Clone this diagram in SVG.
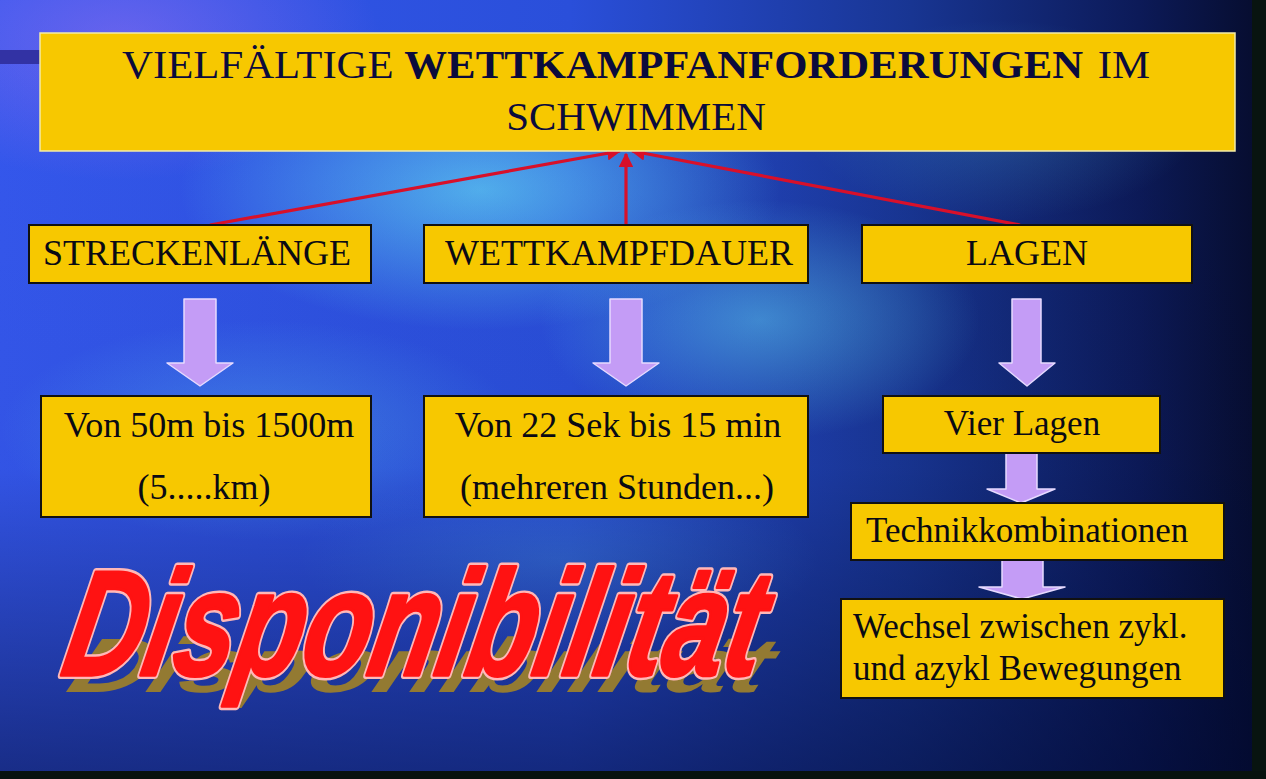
<svg xmlns="http://www.w3.org/2000/svg" width="1266" height="779" viewBox="0 0 1266 779">
<defs>
<linearGradient id="bgH" x1="0" y1="0" x2="1" y2="0">
<stop offset="0" stop-color="#3558EE"/>
<stop offset="0.45" stop-color="#2A4FDA"/>
<stop offset="0.72" stop-color="#183592"/>
<stop offset="0.9" stop-color="#0C1A58"/>
<stop offset="1" stop-color="#060C2C"/>
</linearGradient>
<linearGradient id="bgV" x1="0" y1="0" x2="0" y2="1">
<stop offset="0" stop-color="#000830" stop-opacity="0"/>
<stop offset="0.6" stop-color="#000830" stop-opacity="0.05"/>
<stop offset="1" stop-color="#000830" stop-opacity="0.55"/>
</linearGradient>
<radialGradient id="glow" cx="0.5" cy="0.5" r="0.5">
<stop offset="0" stop-color="#5FD0F5" stop-opacity="0.75"/>
<stop offset="1" stop-color="#5FD0F5" stop-opacity="0"/>
</radialGradient>
<radialGradient id="purp" cx="0.5" cy="0.5" r="0.5">
<stop offset="0" stop-color="#8A6CF0" stop-opacity="0.6"/>
<stop offset="1" stop-color="#8A6CF0" stop-opacity="0"/>
</radialGradient>
<marker id="redHead" viewBox="0 0 10 10" refX="9" refY="5" markerWidth="4.5" markerHeight="4.5" orient="auto" markerUnits="strokeWidth">
<path d="M0,0 L10,5 L0,10 z" fill="#D8102A"/>
</marker>
<style>
.box{fill:#F7C800;stroke:#111;stroke-width:2}
.tbox{fill:#F7C800;stroke:#F3EBA8;stroke-width:1.5}
.t{font-family:"Liberation Serif","Times New Roman",serif;fill:#0A0A14;font-size:36px}
.t2{font-family:"Liberation Serif","Times New Roman",serif;fill:#0A0A14;font-size:35px}
.title{font-family:"Liberation Serif","Times New Roman",serif;fill:#0B0B3C;font-size:41px}
.red{stroke:#D8102A;stroke-width:3.2;fill:none;marker-end:url(#redHead)}
.blk{fill:#C49CF6;stroke:#E6DAFF;stroke-width:1.5;stroke-linejoin:round}
.disp{font-family:"Liberation Sans",Arial,sans-serif;font-weight:bold;font-style:italic;font-size:110px}
</style>
</defs>
<g id="background">
<rect x="0" y="0" width="1266" height="779" fill="url(#bgH)"/>
<ellipse cx="120" cy="40" rx="260" ry="140" fill="url(#purp)"/>
<ellipse cx="480" cy="190" rx="300" ry="140" fill="url(#glow)"/>
<ellipse cx="760" cy="320" rx="220" ry="120" fill="url(#glow)" opacity="0.7"/>
<ellipse cx="260" cy="430" rx="260" ry="110" fill="url(#glow)" opacity="0.45"/>
<ellipse cx="1000" cy="120" rx="200" ry="100" fill="url(#glow)" opacity="0.3"/>
<ellipse cx="560" cy="560" rx="260" ry="90" fill="url(#glow)" opacity="0.3"/>
<rect x="0" y="0" width="1266" height="779" fill="url(#bgV)"/>
<rect x="0" y="50" width="40" height="14" fill="#3232A4"/>
<rect x="1252" y="0" width="14" height="779" fill="#081410"/>
<rect x="0" y="771" width="1266" height="8" fill="#07120E"/>
</g>
<g id="disponibilitaet">
<text class="disp" fill="#937A32" transform="translate(64,692) skewX(-22) scale(1,0.7)">Disponibilität</text>
<g transform="translate(59,675) skewX(-11) scale(1,1.36)">
<text class="disp" fill="#FFB8B8" stroke="#FFB8B8" stroke-width="6" stroke-linejoin="round">Disponibilität</text>
<text class="disp" fill="#FF1212" stroke="#FF1212" stroke-width="2.4" stroke-linejoin="round">Disponibilität</text>
</g>
</g>
<g id="connectors">
<line class="red" x1="210" y1="225" x2="620" y2="151"/>
<line class="red" x1="626" y1="225" x2="626" y2="154"/>
<line class="red" x1="1020" y1="225" x2="632" y2="151"/>
<polygon class="blk" points="184,299 216,299 216,363 233,363 200,386 167,363 184,363"/>
<polygon class="blk" points="610,299 642,299 642,363 659,363 626,386 593,363 610,363"/>
<polygon class="blk" points="1012,299 1041,299 1041,363 1055,363 1027,386 999,363 1012,363"/>
<polygon class="blk" points="1006,450 1037,450 1037,489 1055,489 1021,503 987,489 1006,489"/>
<polygon class="blk" points="1002,556 1043,556 1043,587 1065,587 1022,599 979,587 1002,587"/>
</g>
<g id="title">
<rect class="tbox" x="40" y="33" width="1195" height="118"/>
<text class="title" x="636" y="78" text-anchor="middle" textLength="1028" lengthAdjust="spacingAndGlyphs">VIELFÄLTIGE <tspan font-weight="bold">WETTKAMPFANFORDERUNGEN</tspan><tspan dx="14">IM</tspan></text>
<text class="title" x="636" y="130" text-anchor="middle">SCHWIMMEN</text>
</g>
<g id="streckenlaenge">
<rect class="box" x="29" y="225" width="342" height="58"/>
<text class="t" x="197" y="265" text-anchor="middle">STRECKENLÄNGE</text>
</g>
<g id="wettkampfdauer">
<rect class="box" x="424" y="225" width="384" height="58"/>
<text class="t" x="619" y="265" text-anchor="middle">WETTKAMPFDAUER</text>
</g>
<g id="lagen">
<rect class="box" x="862" y="225" width="330" height="58"/>
<text class="t" x="1027" y="265" text-anchor="middle">LAGEN</text>
</g>
<g id="strecke-detail">
<rect class="box" x="41" y="396" width="330" height="121"/>
<text class="t" x="209" y="437" text-anchor="middle">Von 50m bis 1500m</text>
<text class="t" x="204" y="499" text-anchor="middle">(5.....km)</text>
</g>
<g id="dauer-detail">
<rect class="box" x="424" y="396" width="384" height="121"/>
<text class="t" x="618" y="437" text-anchor="middle">Von 22 Sek bis 15 min</text>
<text class="t" x="617" y="499" text-anchor="middle">(mehreren Stunden...)</text>
</g>
<g id="vier-lagen">
<rect class="box" x="883" y="396" width="277" height="57"/>
<text class="t2" x="1022" y="435" text-anchor="middle">Vier Lagen</text>
</g>
<g id="technikkombinationen">
<rect class="box" x="851" y="503" width="373" height="57"/>
<text class="t2" x="866" y="542">Technikkombinationen</text>
</g>
<g id="wechsel">
<rect class="box" x="841" y="599" width="383" height="99"/>
<text class="t2" x="853" y="638">Wechsel zwischen zykl.</text>
<text class="t2" x="853" y="680">und azykl Bewegungen</text>
</g>
</svg>
